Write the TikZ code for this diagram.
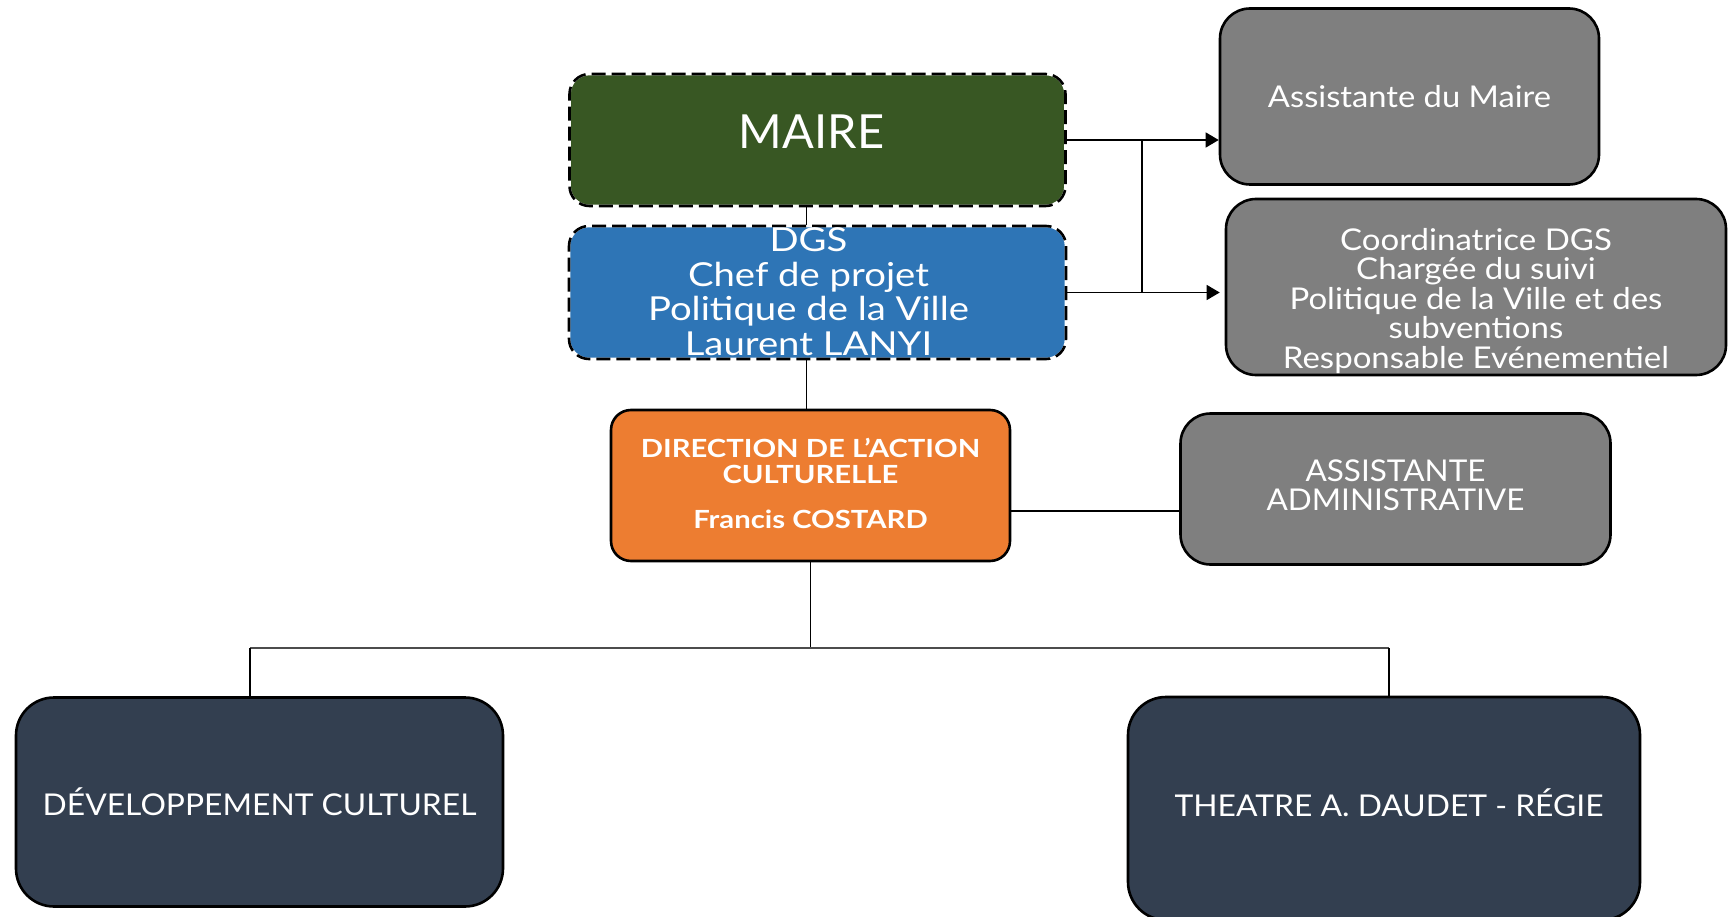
\documentclass[tikz,border=0pt]{standalone}
\usepackage{fontspec}
\setmainfont{Lato}
\usetikzlibrary{arrows.meta}
\definecolor{cgreen}{HTML}{385723}
\definecolor{cblue}{HTML}{2E75B6}
\definecolor{cgray}{HTML}{7F7F7F}
\definecolor{corange}{HTML}{ED7D31}
\definecolor{cnavy}{HTML}{333F50}
\newcommand{\fnt}[3]{\fontsize{#1}{#2}\selectfont\addfontfeature{FakeStretch=#3}}
\tikzset{
  box/.style={rectangle, inner sep=0pt, text=white, align=center, draw=black, line width=2.6pt},
  dashbox/.style={box, draw=white, line width=2.6pt, rounded corners=20pt,
    postaction={draw=black, line width=2.6pt, dash pattern=on 14pt off 6pt}},
  graybox/.style={box, fill=cgray, rounded corners=30pt},
  navybox/.style={box, fill=cnavy, rounded corners=38pt},
  txt/.style={inner sep=0pt, text=white, align=center},
  conn/.style={draw=black, line width=1.3pt},
  arr/.style={conn, -{Triangle[length=13pt,width=15pt]}},
  busline/.style={draw=black!70, line width=2.6pt}
}
\begin{document}
\begin{tikzpicture}[x=1pt,y=-1pt]
\useasboundingbox (0,0) rectangle (1729,917);
% top boxes
\node[dashbox, fill=cgreen, minimum width=496pt, minimum height=132pt] (maire) at (817.5,140) {};
\node[txt, font=\fnt{47}{47}{1.0}] (maireT) at ([xshift=-6pt,yshift=8pt]maire.center) {MAIRE};
\node[dashbox, fill=cblue, minimum width=497pt, minimum height=133pt] (dgs) at (817.5,292.5) {};
\node[txt, font=\fnt{33}{34.5}{1.16}] (dgsT) at ([xshift=-9pt,yshift=1pt]dgs.center)
  {DGS\\Chef de projet\\Politique de la Ville\\Laurent LANYI};
\node[graybox, minimum width=379pt, minimum height=176pt,
      font=\fnt{30}{30}{1.09}] (asm) at (1409.5,96.5) {Assistante du Maire};
\node[graybox, minimum width=500pt, minimum height=176pt] (coord) at (1476,287) {};
\node[txt, font=\fnt{30}{29.5}{1.10}] (coordT) at ([yshift=-14pt]coord.center)
  {Coordinatrice DGS\\Chargée du suivi\\Politique de la Ville et des\\subventions\\Responsable Evénementiel};
% direction
\node[box, fill=corange, rounded corners=20pt, minimum width=399pt, minimum height=151pt] (dca) at (810.5,485.5) {};
\node[txt, font=\bfseries\fnt{25}{25.5}{1.17}] (dcaT) at ([yshift=2pt]dca.center)
  {DIRECTION DE L’ACTION\\CULTURELLE\\[20pt]Francis COSTARD};
\node[graybox, minimum width=430pt, minimum height=151pt] (aa) at (1395.5,489) {};
\node[txt, font=\fnt{30}{29.5}{1.05}] (aaT) at ([yshift=4pt]aa.center) {ASSISTANTE\\ADMINISTRATIVE};
% bottom
\node[navybox, minimum width=487pt, minimum height=209pt,
      font=\fnt{30}{30}{1.06}] (dev) at (259.5,802) {DÉVELOPPEMENT CULTUREL};
\node[navybox, minimum width=512pt, minimum height=223pt] (theatre) at (1384,808.5) {};
\node[txt, font=\fnt{30}{30}{1.06}] (theatreT) at (1389,803) {THEATRE A. DAUDET - RÉGIE};
% connectors
\draw[conn] ([xshift=-11pt]maire.south) -- ([xshift=-11pt]dgs.north);
\draw[conn] ([xshift=-11pt]dgs.south) -- ([xshift=-11pt]dgs.south |- dca.north);
\coordinate (jx) at (1142,0);
\draw[arr] (maire.east) -- (maire.east -| asm.west);
\draw[arr] (dgs.east) -- ([xshift=-5pt]dgs.east -| coord.west);
\draw[conn] (maire.east -| jx) -- (dgs.east -| jx);
\draw[conn] ([yshift=-25.5pt]dca.east) -- ([yshift=-25.5pt]dca.east -| aa.west);
\coordinate (bl) at (250,648);
\coordinate (br) at (1389,648);
\draw[conn] (dca.south) -- (dca.south |- bl);
\draw[busline] (bl) -- (br);
\draw[conn] (bl) -- (bl |- dev.north);
\draw[conn] (br) -- (br |- theatre.north);
\end{tikzpicture}
\end{document}
